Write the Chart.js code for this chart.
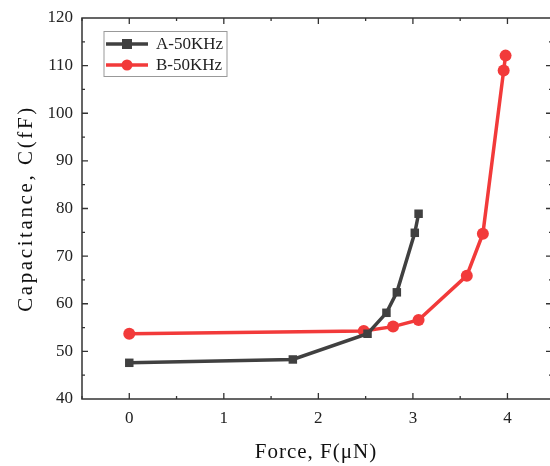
<!DOCTYPE html>
<html lang="en">
<head>
  <meta charset="UTF-8" />
  <title>Capacitance vs Force</title>
  <style>
    body { margin: 0; background: #fff; }
    #wrap { width: 550px; height: 466px; }
  </style>
</head>
<body>
  <div id="wrap"><canvas id="chart" width="550" height="466"></canvas></div>

  <script src="https://cdn.jsdelivr.net/npm/chart.js@4"></script>
  <script>
    // values
    const forceA = [0, 1.73, 2.52, 2.72, 2.83, 3.02, 3.06];
    const capA   = [47.6, 48.3, 53.7, 58.1, 62.4, 74.9, 78.9];
    const forceB = [0, 2.48, 2.79, 3.06, 3.57, 3.74, 3.96, 3.98];
    const capB   = [53.7, 54.3, 55.2, 56.6, 65.9, 74.7, 109.0, 112.1];
    const seriesNames = ['A-50KHz', 'B-50KHz'];
    const xTitle = 'Force, F(\u03bcN)';
    const yTitle = 'Capacitance, C(fF)';

    const grey = '#404040';
    const red = '#f23a3a';
    const serif = '"Liberation Serif", "Times New Roman", serif';

    const toPts = (xs, ys) => xs.map((x, i) => ({ x: x, y: ys[i] }));

    // frame, inward ticks (major + minor), axis titles and legend
    const decor = {
      id: 'decor',
      afterDraw(chart) {
        const ctx = chart.ctx;
        const a = chart.chartArea;
        const xs = chart.scales.x, ys = chart.scales.y;
        const right = a.right + 3; // the frame's right edge sits just outside the picture
        ctx.save();
        ctx.strokeStyle = '#333';
        ctx.lineWidth = 1.5;
        ctx.strokeRect(a.left, a.top, right - a.left, a.bottom - a.top);

        ctx.lineWidth = 1.3;
        ctx.beginPath();
        for (let v = -0.5; v <= 4.45; v += 0.5) {
          const px = xs.getPixelForValue(v);
          const len = Number.isInteger(v) ? 6 : 3;
          ctx.moveTo(px, a.bottom); ctx.lineTo(px, a.bottom - len);
          ctx.moveTo(px, a.top); ctx.lineTo(px, a.top + len);
        }
        for (let v = 45; v < 120; v += 5) {
          const py = ys.getPixelForValue(v);
          const len = v % 10 === 0 ? 6 : 3;
          ctx.moveTo(a.left, py); ctx.lineTo(a.left + len, py);
          ctx.moveTo(right, py); ctx.lineTo(right - len - 1, py);
        }
        ctx.stroke();

        // axis titles
        ctx.fillStyle = '#111';
        ctx.textAlign = 'center';
        ctx.textBaseline = 'middle';
        ctx.font = '21px ' + serif;
        ctx.letterSpacing = '1px';
        ctx.fillText(xTitle, (a.left + a.right) / 2, 452);
        ctx.save();
        ctx.translate(26, (a.top + a.bottom) / 2);
        ctx.rotate(-Math.PI / 2);
        ctx.letterSpacing = '2.6px';
        ctx.fillText(yTitle, 0, 0);
        ctx.restore();
        ctx.letterSpacing = '0px';

        // legend
        ctx.strokeStyle = '#999';
        ctx.lineWidth = 1;
        ctx.strokeRect(104, 31.5, 123, 45);
        const rows = [
          { y: 44, color: grey, shape: 'square' },
          { y: 65, color: red, shape: 'circle' }
        ];
        ctx.font = '17px ' + serif;
        ctx.textAlign = 'left';
        rows.forEach((r, i) => {
          ctx.strokeStyle = r.color;
          ctx.fillStyle = r.color;
          ctx.lineWidth = 3.5;
          ctx.beginPath();
          ctx.moveTo(106, r.y); ctx.lineTo(148, r.y);
          ctx.stroke();
          if (r.shape === 'square') {
            ctx.fillRect(122, r.y - 5, 10, 10);
          } else {
            ctx.beginPath();
            ctx.arc(127, r.y, 5.5, 0, Math.PI * 2);
            ctx.fill();
          }
          ctx.fillStyle = '#222';
          ctx.fillText(seriesNames[i], 156, r.y + 1);
        });
        ctx.restore();
      }
    };

    new Chart(document.getElementById('chart'), {
      type: 'scatter',
      data: {
        datasets: [
          {
            label: seriesNames[0],
            data: toPts(forceA, capA),
            showLine: true,
            borderColor: grey,
            backgroundColor: grey,
            borderWidth: 3.5,
            pointStyle: 'rect',
            pointRadius: 6,
            pointBorderWidth: 0
          },
          {
            label: seriesNames[1],
            data: toPts(forceB, capB),
            showLine: true,
            borderColor: red,
            backgroundColor: red,
            borderWidth: 3.5,
            pointStyle: 'circle',
            pointRadius: 6,
            pointBorderWidth: 0
          }
        ]
      },
      options: {
        responsive: false,
        animation: false,
        layout: { autoPadding: false, padding: { top: 18, right: 0, left: 0, bottom: 0 } },
        plugins: { legend: { display: false }, tooltip: { enabled: false } },
        scales: {
          x: {
            type: 'linear',
            min: -0.5,
            max: 4.45,
            afterFit(s) { s.height = 67; s.paddingLeft = 0; s.paddingRight = 0; },
            afterBuildTicks(s) { s.ticks = [0, 1, 2, 3, 4].map(v => ({ value: v })); },
            grid: { display: false, drawTicks: false },
            border: { display: false },
            ticks: { padding: 9, color: '#222', font: { family: serif, size: 17 } }
          },
          y: {
            min: 40,
            max: 120,
            afterFit(s) { s.width = 82; s.paddingTop = 0; s.paddingBottom = 0; },
            grid: { display: false, drawTicks: false },
            border: { display: false },
            ticks: { stepSize: 10, padding: 9, color: '#222', font: { family: serif, size: 17 } }
          }
        }
      },
      plugins: [decor]
    });
  </script>
</body>
</html>
